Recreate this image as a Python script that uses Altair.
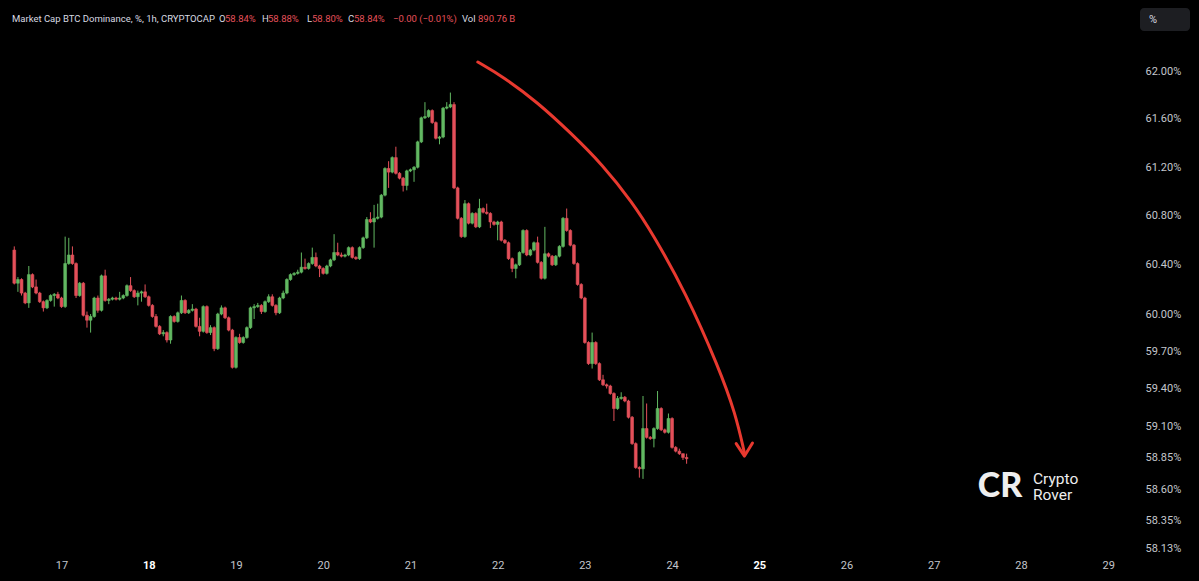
import altair as alt
import pandas as pd

# ---------------- data (hourly candles, BTC dominance %) ----------------
first_open = 60.52
start_day = 16 + 11 / 24  # day-of-month of the first hourly candle

close = [
    60.25, 60.28, 60.17, 60.09, 60.32, 60.22, 60.17, 60.10, 60.05, 60.11,
    60.15, 60.16, 60.13, 60.06, 60.41, 60.48, 60.41, 60.15, 60.25, 59.99,
    59.95, 59.98, 60.13, 60.03, 60.31, 60.11, 60.12, 60.13, 60.12, 60.13,
    60.15, 60.23, 60.19, 60.14, 60.17, 60.18, 60.14, 60.07, 59.98, 59.90,
    59.84, 59.85, 59.79, 59.98, 59.94, 60.01, 60.11, 60.01, 60.03, 60.04,
    59.90, 59.86, 60.06, 59.85, 59.89, 59.72, 60.00, 60.05, 59.97, 59.87,
    59.57, 59.81, 59.77, 59.81, 59.89, 60.05, 60.06, 60.07, 60.02, 60.10,
    60.14, 60.07, 60.01, 60.13, 60.17, 60.28, 60.32, 60.33, 60.34, 60.38,
    60.37, 60.41, 60.46, 60.39, 60.37, 60.33, 60.39, 60.44, 60.50, 60.48,
    60.47, 60.48, 60.54, 60.46, 60.45, 60.54, 60.62, 60.77, 60.75, 60.78,
    60.79, 60.97, 61.19, 61.16, 61.28, 61.15, 61.11, 61.05, 61.17, 61.18,
    61.20, 61.41, 61.61, 61.62, 61.67, 61.57, 61.44, 61.45, 61.69, 61.70,
    61.72, 61.03, 60.78, 60.63, 60.90, 60.74, 60.82, 60.71, 60.86, 60.83,
    60.82, 60.75, 60.73, 60.75, 60.60, 60.58, 60.45, 60.37, 60.40, 60.50,
    60.68, 60.48, 60.52, 60.58, 60.42, 60.29, 60.49, 60.47, 60.40, 60.47,
    60.55, 60.78, 60.68, 60.56, 60.41, 60.24, 60.13, 59.77, 59.60, 59.77,
    59.60, 59.47, 59.43, 59.42, 59.36, 59.24, 59.32, 59.33, 59.30, 59.17,
    58.96, 58.77, 58.76, 59.08, 59.01, 59.00, 59.08, 59.24, 59.07, 59.05,
    59.16, 58.93, 58.90, 58.88, 58.85, 58.84,
]

high = [
    60.55, 60.30, 60.29, 60.18, 60.39, 60.33, 60.28, 60.18, 60.11, 60.12,
    60.16, 60.17, 60.18, 60.14, 60.63, 60.62, 60.55, 60.42, 60.26, 60.26,
    60.02, 60.00, 60.14, 60.15, 60.32, 60.36, 60.13, 60.14, 60.14, 60.18,
    60.16, 60.24, 60.30, 60.20, 60.19, 60.19, 60.24, 60.15, 60.08, 60.00,
    59.91, 59.87, 59.86, 59.99, 59.99, 60.02, 60.15, 60.12, 60.04, 60.08,
    60.05, 59.97, 60.07, 60.07, 59.91, 59.90, 60.01, 60.07, 60.06, 59.98,
    59.88, 59.82, 59.84, 59.82, 59.90, 60.06, 60.08, 60.09, 60.08, 60.11,
    60.16, 60.16, 60.08, 60.14, 60.19, 60.29, 60.33, 60.34, 60.36, 60.50,
    60.45, 60.42, 60.54, 60.50, 60.40, 60.38, 60.40, 60.45, 60.65, 60.58,
    60.50, 60.49, 60.55, 60.55, 60.47, 60.55, 60.63, 60.79, 60.83, 60.89,
    60.90, 60.98, 61.20, 61.25, 61.29, 61.37, 61.16, 61.12, 61.18, 61.19,
    61.21, 61.42, 61.62, 61.74, 61.68, 61.68, 61.58, 61.46, 61.70, 61.74,
    61.82, 61.74, 61.04, 60.79, 60.93, 60.91, 60.83, 60.83, 60.94, 60.87,
    60.90, 60.83, 60.76, 60.76, 60.76, 60.61, 60.59, 60.46, 60.41, 60.51,
    60.69, 60.69, 60.53, 60.59, 60.63, 60.43, 60.71, 60.50, 60.48, 60.48,
    60.56, 60.79, 60.86, 60.69, 60.57, 60.42, 60.25, 60.14, 59.78, 59.85,
    59.78, 59.61, 59.51, 59.44, 59.43, 59.37, 59.34, 59.37, 59.34, 59.31,
    59.18, 58.97, 58.78, 59.34, 59.28, 59.02, 59.09, 59.38, 59.25, 59.08,
    59.20, 59.17, 58.94, 58.92, 58.88, 58.88,
]

low = [
    60.24, 60.18, 60.15, 60.08, 60.05, 60.21, 60.16, 60.09, 60.02, 60.04,
    60.10, 60.06, 60.12, 60.05, 60.05, 60.40, 60.40, 60.13, 60.14, 59.98,
    59.89, 59.85, 59.97, 60.01, 60.02, 60.10, 60.08, 60.11, 60.11, 60.11,
    60.12, 60.14, 60.18, 60.13, 60.07, 60.10, 60.13, 60.06, 59.97, 59.89,
    59.83, 59.82, 59.77, 59.76, 59.93, 59.93, 60.00, 60.00, 60.00, 60.02,
    59.89, 59.82, 59.85, 59.84, 59.83, 59.70, 59.71, 59.99, 59.96, 59.86,
    59.56, 59.56, 59.76, 59.76, 59.80, 59.88, 59.96, 60.05, 60.00, 60.01,
    60.09, 60.06, 59.99, 60.00, 60.12, 60.16, 60.27, 60.31, 60.32, 60.33,
    60.36, 60.36, 60.40, 60.38, 60.30, 60.32, 60.32, 60.38, 60.43, 60.47,
    60.46, 60.46, 60.47, 60.45, 60.44, 60.44, 60.53, 60.61, 60.74, 60.54,
    60.77, 60.78, 60.96, 61.03, 61.15, 61.14, 61.10, 61.00, 61.01, 61.16,
    61.08, 61.19, 61.40, 61.60, 61.61, 61.56, 61.43, 61.39, 61.44, 61.68,
    61.69, 61.02, 60.77, 60.62, 60.62, 60.73, 60.73, 60.70, 60.70, 60.82,
    60.81, 60.70, 60.72, 60.60, 60.59, 60.57, 60.44, 60.34, 60.29, 60.39,
    60.49, 60.47, 60.47, 60.51, 60.41, 60.28, 60.28, 60.46, 60.39, 60.39,
    60.46, 60.54, 60.67, 60.55, 60.40, 60.23, 60.12, 59.76, 59.59, 59.56,
    59.59, 59.46, 59.42, 59.40, 59.35, 59.14, 59.23, 59.31, 59.29, 59.16,
    58.95, 58.76, 58.69, 58.68, 59.00, 58.99, 58.93, 59.07, 59.06, 59.04,
    59.04, 58.92, 58.89, 58.87, 58.83, 58.80,
]

# annotation arrow (day, value) along the curved red arrow
arrow_day = [21.773, 22.068, 22.455, 22.830, 23.205, 23.545, 23.773, 24.159,
             24.534, 24.727, 24.830]
arrow_val = [62.075, 61.95, 61.74, 61.49, 61.22, 60.91, 60.66, 60.17,
             59.57, 59.20, 58.885]
head_day = [24.735, 24.830, 24.922]
head_val = [58.96, 58.861, 58.965]

y_ticks = [62.00, 61.60, 61.20, 60.80, 60.40, 60.00, 59.70, 59.40, 59.10,
           58.85, 58.60, 58.35, 58.13]
x_ticks = list(range(17, 30))

header_txt = ["Market Cap BTC Dominance, %, 1h, CRYPTOCAP", "O", "58.84%", "H",
              "58.88%", "L", "58.80%", "C", "58.84%", "\u22120.00 (\u22120.01%)",
              "Vol", "890.76\u2009B"]
header_red = [False, False, True, False, True, False, True, False, True, True,
              False, True]

# ---------------- styling / layout ----------------
GREEN = "#62b862"
RED = "#e4505a"
ARROW = "#e8392f"
TXT = "#d8dae0"
W, H = 1135, 552
header_x = [12, 219, 225, 262, 268, 307, 312, 348, 354, 393, 462, 478]

opens = [first_open] + close[:-1]
df = pd.DataFrame({
    "t": [start_day + i / 24 for i in range(len(close))],
    "open": opens, "close": close, "high": high, "low": low,
})
df["dir"] = ["up" if c >= o else "down" for o, c in zip(opens, close)]

xscale = alt.Scale(domain=[16.352, 29.25], nice=False, zero=False)
yscale = alt.Scale(type="log", domain=[58.104, 62.597], nice=False, zero=False)
cscale = alt.Scale(domain=["up", "down"], range=[GREEN, RED])

xaxis = alt.Axis(values=x_ticks, format="d", grid=False, domain=False, ticks=False,
                 labelFontSize=11, labelPadding=7, labelFont="Roboto",
                 labelColor={"condition": {"test": "datum.value == 18 || datum.value == 25",
                                           "value": "#ffffff"}, "value": "#c3c6cc"},
                 labelFontWeight={"condition": {"test": "datum.value == 18 || datum.value == 25",
                                                "value": "bold"}, "value": "normal"},
                 title=None)
yaxis = alt.Axis(orient="right", values=y_ticks, grid=False, domain=False, ticks=False,
                 labelExpr="format(datum.value, '.2f') + '%'", labelFontSize=11,
                 labelFont="Roboto", labelColor="#c3c6cc", labelPadding=10, title=None)

base = alt.Chart(df)
wicks = base.mark_rule(strokeWidth=1).encode(
    x=alt.X("t:Q", scale=xscale, axis=xaxis),
    y=alt.Y("low:Q", scale=yscale, axis=yaxis),
    y2="high:Q",
    color=alt.Color("dir:N", scale=cscale, legend=None),
)
bodies = base.mark_bar(size=2.8, strokeWidth=0.6).encode(
    x="t:Q",
    y="open:Q",
    y2="close:Q",
    color=alt.Color("dir:N", scale=cscale, legend=None),
    stroke=alt.Stroke("dir:N", scale=cscale, legend=None),
)

arrow_df = pd.DataFrame({"t": arrow_day, "v": arrow_val, "o": list(range(len(arrow_day)))})
arrow = alt.Chart(arrow_df).mark_line(color=ARROW, strokeWidth=3, interpolate="basis",
                                      strokeCap="round").encode(
    x="t:Q", y="v:Q", order="o:Q")
head_df = pd.DataFrame({"t": head_day, "v": head_val, "o": [0, 1, 2]})
head = alt.Chart(head_df).mark_line(color=ARROW, strokeWidth=3, strokeCap="round",
                                    strokeJoin="round").encode(
    x="t:Q", y="v:Q", order="o:Q")

one = pd.DataFrame({"a": [0]})
layers = [wicks, bodies, arrow, head]
for txt, red, px in zip(header_txt, header_red, header_x):
    layers.append(alt.Chart(one).mark_text(text=txt, align="left", baseline="middle",
                                           fontSize=9.5, font="Roboto",
                                           color=RED if red else TXT).encode(
        x=alt.value(px), y=alt.value(19)))

# "%" button
layers.append(alt.Chart(one).mark_rect(color="#1d1e22", cornerRadius=4).encode(
    x=alt.value(1140), x2=alt.value(1190), y=alt.value(8), y2=alt.value(31)))
layers.append(alt.Chart(one).mark_text(text="%", align="left", baseline="middle",
                                       fontSize=11, font="Roboto", color=TXT).encode(
    x=alt.value(1149), y=alt.value(19.5)))

# watermark logo
layers.append(alt.Chart(one).mark_text(text="CR", align="center", baseline="middle",
                                       fontSize=34, font="Lato", fontWeight=900,
                                       color="#eeeeee").encode(
    x=alt.value(1000), y=alt.value(487)))
layers.append(alt.Chart(one).mark_text(text="Crypto", align="left", baseline="middle",
                                       fontSize=15.5, font="Roboto", color="#eeeeee").encode(
    x=alt.value(1033), y=alt.value(479)))
layers.append(alt.Chart(one).mark_text(text="Rover", align="left", baseline="middle",
                                       fontSize=15.5, font="Roboto", color="#eeeeee").encode(
    x=alt.value(1033), y=alt.value(495)))

chart = alt.layer(*layers).properties(
    width=W, height=H,
    autosize=alt.AutoSizeParams(type="none"),
    padding={"left": 0, "top": 0, "right": 1199 - W, "bottom": 581 - H},
    background="#000000",
).configure_view(stroke=None)

chart.save("out.html", embed_options={"renderer": "svg", "actions": False})
